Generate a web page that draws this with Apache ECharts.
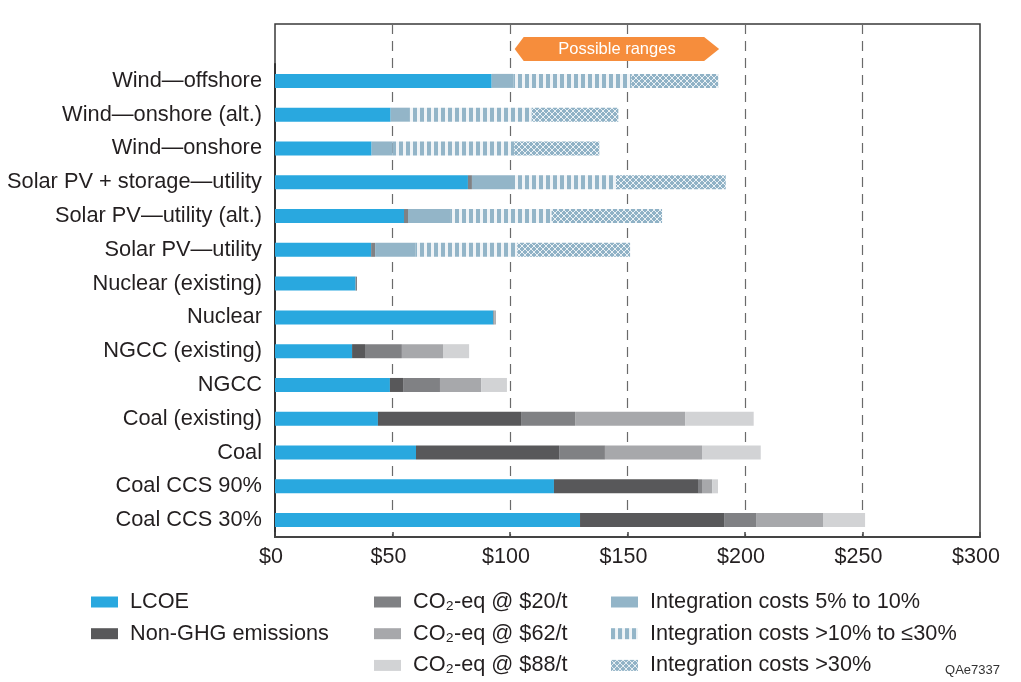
<!DOCTYPE html>
<html>
<head>
<meta charset="utf-8">
<script src="https://cdn.jsdelivr.net/npm/echarts@6/dist/echarts.min.js"></script>
<style>
  html, body { margin: 0; padding: 0; background: #fff; }
  #chart { width: 1021px; height: 682px; }
</style>
</head>
<body>
<div id="chart"></div>
<script>
const categories = [
  "Wind—offshore", "Wind—onshore (alt.)", "Wind—onshore", "Solar PV + storage—utility",
  "Solar PV—utility (alt.)", "Solar PV—utility", "Nuclear (existing)", "Nuclear",
  "NGCC (existing)", "NGCC", "Coal (existing)", "Coal", "Coal CCS 90%", "Coal CCS 30%",
];
const lcoe =     [92.2, 49.2, 41.1, 82.1, 54.9, 40.9, 34.3, 92.9, 32.8, 48.9, 43.8, 60.0, 118.7, 129.8];
const nonGhg =   [0, 0, 0, 0, 0, 0, 0, 0, 5.5, 5.6, 60.9, 60.9, 61.3, 61.3];
const co2At20 =  [0, 0, 0, 1.7, 1.7, 1.7, 0.6, 0.4, 15.7, 15.7, 23.0, 19.5, 1.7, 13.6];
const co2At62 =  [0, 0, 0, 0, 0, 0, 0, 0.7, 17.5, 17.5, 46.8, 41.3, 4.3, 28.5];
const co2At88 =  [0, 0, 0, 0, 0, 0, 0, 0, 11.1, 11.0, 29.2, 25.0, 2.5, 17.9];
const integLow = [9.2, 8.2, 9.0, 17.9, 17.9, 17.1, 0, 0, 0, 0, 0, 0, 0, 0];
const integMid = [50.2, 51.8, 51.7, 43.4, 43.2, 43.4, 0, 0, 0, 0, 0, 0, 0, 0];
const integHigh = [37.0, 36.9, 36.2, 46.7, 47.0, 48.0, 0, 0, 0, 0, 0, 0, 0, 0];
const xTicks = [0, 50, 100, 150, 200, 250, 300];
const rangeSpan = [102, 189];

const textColor = "#231f20";
const fontFamily = "'Liberation Sans', Arial, sans-serif";
const integColor = "#93b5c8";

function stripePattern() {
  const c = document.createElement("canvas");
  c.width = 7; c.height = 7;
  const ctx = c.getContext("2d");
  ctx.fillStyle = "#f0f4f7";
  ctx.fillRect(0, 0, 7, 7);
  ctx.fillStyle = integColor;
  ctx.fillRect(0, 0, 4, 7);
  return { image: c, repeat: "repeat" };
}

function hatchPattern() {
  const c = document.createElement("canvas");
  c.width = 6; c.height = 6;
  const ctx = c.getContext("2d");
  for (let x = 0; x < 6; x += 1) {
    for (let y = 0; y < 6; y += 1) {
      ctx.fillStyle = (x === y || x + y === 5) ? "#eaf1f5" : "#90b2c6";
      ctx.fillRect(x, y, 1, 1);
    }
  }
  return { image: c, repeat: "repeat" };
}

function barSeries(name, data, color) {
  return {
    name,
    type: "bar",
    stack: "total",
    xAxisIndex: 1,
    yAxisIndex: 1,
    barWidth: 14,
    data,
    itemStyle: { color },
    emphasis: { disabled: true },
  };
}

function legend(names, left) {
  return {
    data: names,
    orient: "vertical",
    left,
    top: 591,
    padding: 0,
    itemWidth: 27,
    itemHeight: 11,
    itemGap: 9.7,
    icon: "rect",
    selectedMode: false,
    textStyle: { color: textColor, fontSize: 21.7, lineHeight: 22, fontFamily, padding: [0, 0, 0, 7] },
  };
}

const chart = echarts.init(document.getElementById("chart"), null, { renderer: "canvas" });

chart.setOption({
  animation: false,
  backgroundColor: "#fff",
  textStyle: { fontFamily },
  grid: [
    { left: 275, right: 41, top: 24, bottom: 145, show: true, borderColor: "#3a3a3a", borderWidth: 1.5 },
    { left: 275, right: 41, top: 64, bottom: 145 },
  ],
  xAxis: [
    {
      type: "value",
      gridIndex: 0,
      min: xTicks[0],
      max: xTicks[xTicks.length - 1],
      interval: 50,
      axisLine: { show: true, lineStyle: { color: "#444", width: 2 } },
      axisTick: { show: true, inside: true, length: 5, lineStyle: { color: "#444", width: 1.5 } },
      axisLabel: {
        color: textColor, fontSize: 21.5, margin: 9, padding: [0, 8, 0, 0],
        formatter: (v) => "$" + v,
      },
      splitLine: {
        show: true, showMinLine: false, showMaxLine: false,
        lineStyle: { color: "#6a6a6a", type: [10, 7], width: 1.2 },
      },
    },
    { type: "value", gridIndex: 1, min: 0, max: 300, show: false, splitLine: { show: false } },
  ],
  yAxis: [
    { type: "value", gridIndex: 0, show: false, splitLine: { show: false } },
    {
      type: "category",
      gridIndex: 1,
      inverse: true,
      data: categories,
      axisLine: { show: true, lineStyle: { color: "#333", width: 2 } },
      axisTick: { show: false },
      axisLabel: { color: textColor, fontSize: 21.8, margin: 13 },
    },
  ],
  legend: [
    legend(["LCOE", "Non-GHG emissions"], 91),
    legend(["CO₂-eq @ $20/t", "CO₂-eq @ $62/t", "CO₂-eq @ $88/t"], 374),
    legend(["Integration costs 5% to 10%", "Integration costs >10% to ≤30%", "Integration costs >30%"], 611),
  ],
  series: [
    barSeries("LCOE", lcoe, "#29a8df"),
    barSeries("Non-GHG emissions", nonGhg, "#58585a"),
    barSeries("CO₂-eq @ $20/t", co2At20, "#808184"),
    barSeries("CO₂-eq @ $62/t", co2At62, "#a7a8ab"),
    barSeries("CO₂-eq @ $88/t", co2At88, "#d2d3d5"),
    barSeries("Integration costs 5% to 10%", integLow, integColor),
    barSeries("Integration costs >10% to ≤30%", integMid, stripePattern()),
    barSeries("Integration costs >30%", integHigh, hatchPattern()),
  ],
});

// "Possible ranges" arrow placed on the value scale
const x0 = chart.convertToPixel({ xAxisIndex: 0 }, rangeSpan[0]);
const x1 = chart.convertToPixel({ xAxisIndex: 0 }, rangeSpan[1]);
const yTop = 37, yBot = 61, yMid = 49;
chart.setOption({
  graphic: [
    {
      type: "polygon",
      shape: { points: [[x0, yMid], [x0 + 9, yTop], [x1 - 15, yTop], [x1, yMid], [x1 - 15, yBot], [x0 + 9, yBot]] },
      style: { fill: "#f68d3c" },
      z: 10,
    },
    {
      type: "text",
      x: (x0 + x1) / 2,
      y: yMid,
      style: { text: "Possible ranges", fill: "#fff", font: "16.5px " + fontFamily, align: "center", verticalAlign: "middle" },
      z: 11,
    },
    {
      type: "text",
      right: 21,
      top: 664,
      style: { text: "QAe7337", fill: "#333", font: "13px " + fontFamily },
    },
  ],
});
</script>
</body>
</html>
